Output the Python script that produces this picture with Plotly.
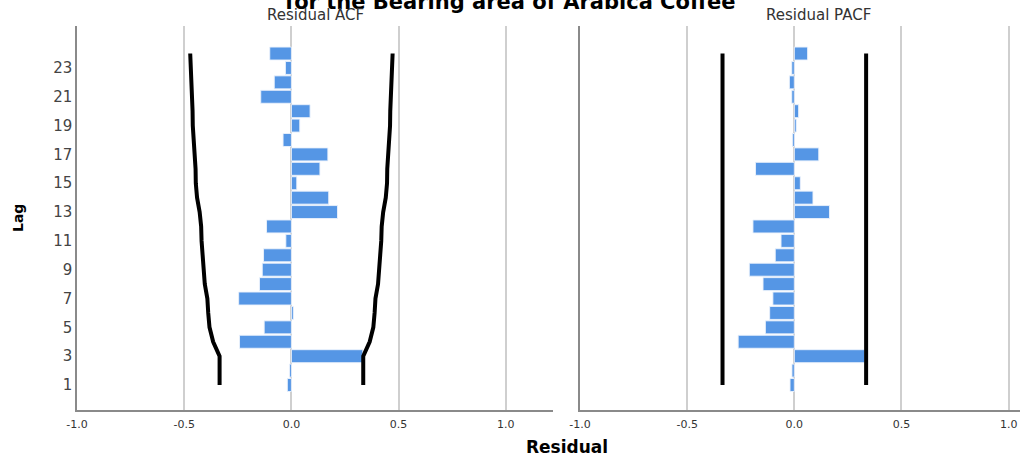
import plotly.graph_objects as go

# ---------------- data ----------------
lags = list(range(1, 25))
acf = [-0.019, -0.009, 0.333, -0.242, -0.127, 0.009, -0.246, -0.149, -0.136, -0.130,
       -0.026, -0.116, 0.215, 0.174, 0.025, 0.133, 0.170, -0.039, 0.039, 0.087,
       -0.143, -0.080, -0.028, -0.101]
acf_limit = [0.335, 0.335, 0.335, 0.365, 0.382, 0.388, 0.392, 0.404, 0.410, 0.415,
             0.419, 0.421, 0.428, 0.440, 0.446, 0.447, 0.452, 0.458, 0.460, 0.461,
             0.464, 0.468, 0.470, 0.472]
pacf = [-0.020, -0.011, 0.329, -0.262, -0.135, -0.115, -0.100, -0.146, -0.210, -0.089,
        -0.062, -0.193, 0.164, 0.087, 0.028, -0.181, 0.114, -0.009, 0.009, 0.020,
        -0.012, -0.023, -0.012, 0.062]
pacf_limit = [0.335] * 24
y_ticks = [1, 3, 5, 7, 9, 11, 13, 15, 17, 19, 21, 23]
x_ticks = [-1.0, -0.5, 0.0, 0.5, 1.0]
x_tick_text = ["-1.0", "-0.5", "0.0", "0.5", "1.0"]

# ---------------- style ----------------
BAR = "#5596e5"
GRID = "#cfcfcf"
AXIS = "#8a8a8a"
TXT = "#333333"
FONT = "DejaVu Sans"

W, H = 1020, 457
ML, MR, MT, MB = 77, 0, 26, 47
PW, PH = W - ML - MR, H - MT - MB


def px_x(p):
    return (p - ML) / PW


def px_y(p):
    return (H - MB - p) / PH


fig = go.Figure()

for vals, lim, xa, ya in [(acf, acf_limit, "x", "y"), (pacf, pacf_limit, "x2", "y2")]:
    fig.add_trace(go.Bar(
        x=vals, y=lags, orientation="h", width=0.9,
        marker=dict(color=BAR, line=dict(color="rgba(235,242,252,0.9)", width=1)),
        xaxis=xa, yaxis=ya, showlegend=False, hoverinfo="x+y"))
    fig.add_trace(go.Scatter(
        x=[-v for v in lim], y=lags, mode="lines",
        line=dict(color="black", width=4), xaxis=xa, yaxis=ya, showlegend=False))
    fig.add_trace(go.Scatter(
        x=lim, y=lags, mode="lines",
        line=dict(color="black", width=4), xaxis=xa, yaxis=ya, showlegend=False))

xcommon = dict(
    tickvals=x_ticks, ticktext=x_tick_text, showgrid=True, gridcolor=GRID, gridwidth=1.5,
    zeroline=False, showline=True, linecolor=AXIS, linewidth=1.5, ticks="",
    ticklabelstandoff=3,
    tickfont=dict(family=FONT, size=11, color=TXT),
)
ycommon = dict(
    range=[-0.735, 25.91], showgrid=False, zeroline=False, showline=True,
    linecolor=AXIS, linewidth=1.5, ticks="",
)

fig.update_layout(
    width=W, height=H,
    margin=dict(l=ML, r=MR, t=MT, b=MB),
    paper_bgcolor="white", plot_bgcolor="white",
    bargap=0.1,
    xaxis=dict(domain=[0, px_x(553)], range=[-1.0, 1.22], anchor="y", **xcommon),
    xaxis2=dict(domain=[px_x(580), 1], range=[-1.0, 1.053], anchor="y2", **xcommon),
    yaxis=dict(anchor="x", tickvals=y_ticks, ticktext=[str(v) for v in y_ticks],
               tickfont=dict(family=FONT, size=15, color="#444444"), **ycommon),
    yaxis2=dict(anchor="x2", showticklabels=False, **ycommon),
    annotations=[
        dict(text="<b>for the Bearing area of Arabica Coffee</b>", xref="paper", yref="paper",
             x=px_x(510), y=px_y(16), xanchor="center", yanchor="bottom", showarrow=False,
             font=dict(family=FONT, size=21, color="black")),
        dict(text="Residual ACF", xref="paper", yref="paper",
             x=px_x(315), y=px_y(15), xanchor="center", yanchor="middle", showarrow=False,
             font=dict(family=FONT, size=15, color=TXT)),
        dict(text="Residual PACF", xref="paper", yref="paper",
             x=px_x(818), y=px_y(15), xanchor="center", yanchor="middle", showarrow=False,
             font=dict(family=FONT, size=15, color=TXT)),
        dict(text="<b>Residual</b>", xref="paper", yref="paper",
             x=px_x(567), y=px_y(447), xanchor="center", yanchor="middle", showarrow=False,
             font=dict(family=FONT, size=17, color="black")),
        dict(text="<b>Lag</b>", xref="paper", yref="paper", textangle=-90,
             x=px_x(18), y=px_y(218), xanchor="center", yanchor="middle", showarrow=False,
             font=dict(family=FONT, size=14, color="black")),
    ],
)

fig.write_html(
    "out.html",
    config={"displayModeBar": False},
    post_script="document.body.style.margin='0';document.body.style.overflow='hidden';",
)
